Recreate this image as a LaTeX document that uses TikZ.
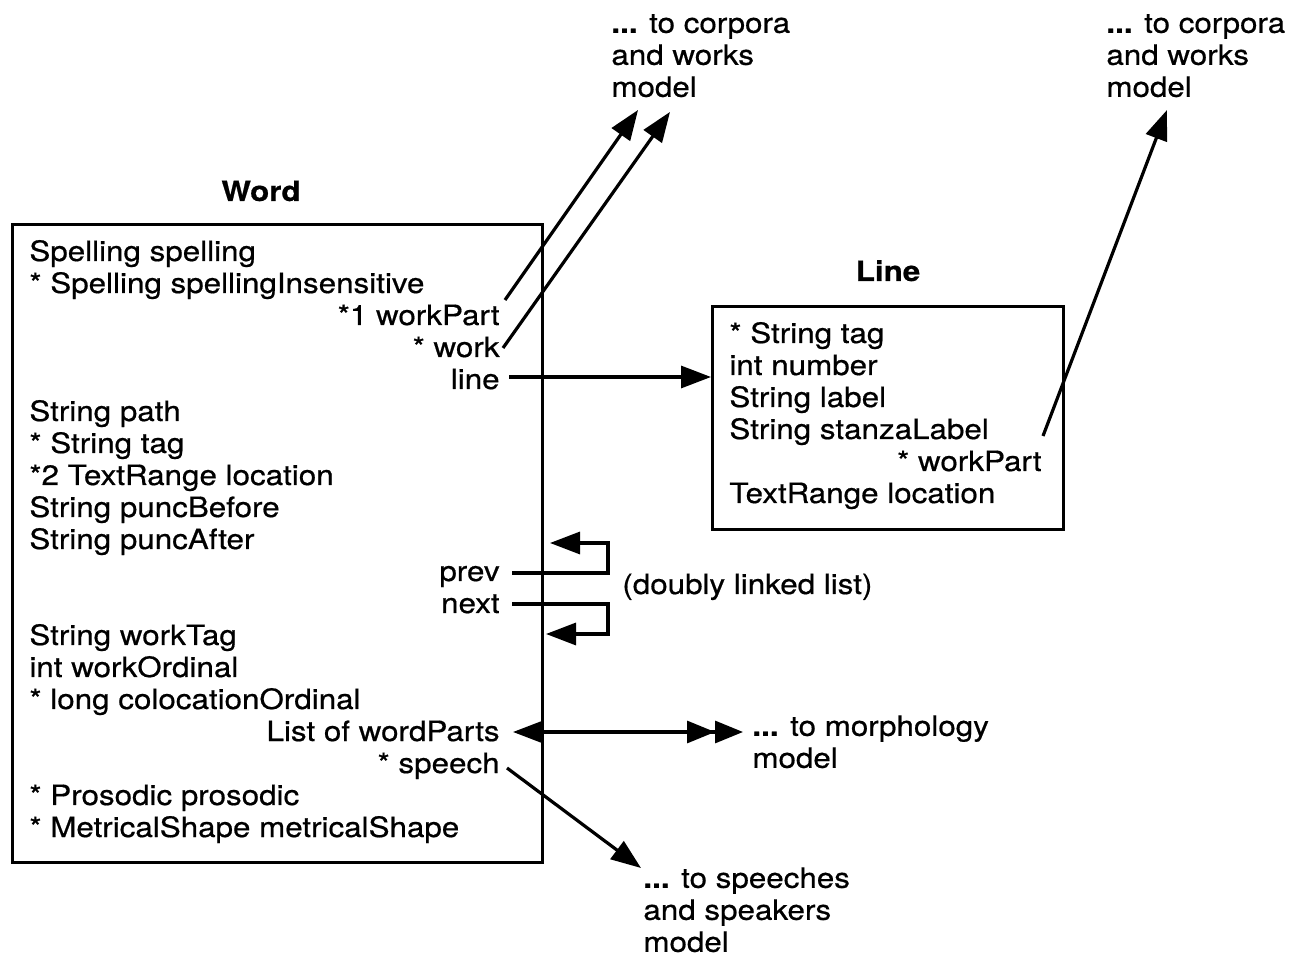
\documentclass[tikz,border=0pt]{standalone}
\usepackage{fontspec}
\setmainfont{TeX Gyre Heros}[FakeStretch=1.12, FakeBold=0.6]
\usetikzlibrary{arrows.meta, calc, positioning}

\begin{document}
\begin{tikzpicture}[x=0.5pt, y=-0.5pt,
  every node/.style={inner sep=0pt, font=\fontsize{14}{16}\selectfont},
  field/.style={anchor=base west},
  rfield/.style={anchor=base east},
  note/.style={anchor=north west, align=left},
  title/.style={anchor=base, font=\fontsize{14}{16}\selectfont\bfseries},
  box/.style={draw, line width=1.5pt},
  link/.style={line width=1.6pt, -{Triangle[length=15pt,width=11pt]}}]

\useasboundingbox (0,0) rectangle (1291,956);

% Word class
\node[title] (wordtitle) at (261,201) {Word};
\draw[box] (12,225) rectangle (542,862);
\foreach \k/\txt in {0/Spelling spelling, 1/* Spelling spellingInsensitive, 5/String path, 6/* String tag, 7/*2 TextRange location, 8/String puncBefore, 9/String puncAfter, 12/String workTag, 13/int workOrdinal, 14/* long colocationOrdinal, 17/* Prosodic prosodic, 18/* MetricalShape metricalShape}
  \node[field] (w\k) at (29,{261+32*\k}) {\txt};
\node[rfield] (wpart) at (500,325) {*1 workPart};
\node[rfield] (work) at (500,357) {* work};
\node[rfield] (line) at (500,389) {line};
\node[rfield] (prev) at (500,581) {prev};
\node[rfield] (next) at (500,613) {next};
\node[rfield] (wparts) at (500,741) {List of wordParts};
\node[rfield] (speech) at (500,773) {* speech};

% Line class
\node[title] (linetitle) at (888,281) {Line};
\node[box, anchor=north west, minimum width=175.5pt, minimum height=111.5pt] (linebox) at (711,305) {};
\foreach \k/\txt in {0/* String tag, 1/int number, 2/String label, 3/String stanzaLabel, 5/TextRange location}
  \node[field] (l\k) at (729,{343+32*\k}) {\txt};
\node[rfield] (lwpart) at (1042,471) {* workPart};

% other models
\node[note] (corpA) at (611,10) {\strut\textbf{...} to corpora\\and works\\model};
\node[note] (corpB) at (1106,10) {\strut\textbf{...} to corpora\\and works\\model};
\node[note] (morph) at (752,713) {\strut\textbf{...} to morphology\\model};
\node[note] (speak) at (643,865) {\strut\textbf{...} to speeches\\and speakers\\model};
\node[field] (dll) at (622,594) {(doubly linked list)};

\coordinate (tipA) at (638,110);
\coordinate (tipB) at (670,112);
\coordinate (tipC) at (1167,110);
\coordinate (prevtip) at (550,543);
\coordinate (nexttip) at (546,634);
\coordinate (morphtip) at (743,732);
\coordinate (speaktip) at (641,868);
\coordinate (linestart) at ($(line.base east)+(9,-12)$);

\draw[link] ($(wpart.base east)+(5,-25)$) -- (tipA);
\draw[link] ($(work.base east)+(3,-9)$) -- (tipB);
\draw[link] (linestart) -- (linestart -| linebox.west);
\draw[link] ($(lwpart.base east)+(1,-35)$) -- (tipC);
\draw[link] ($(prev.base east)+(12,-8)$) -- ++(96,0) |- (prevtip);
\draw[link] ($(next.base east)+(12,-9)$) -- ++(96,0) |- (nexttip);
\draw[line width=1.6pt, {Triangle[length=15pt,width=11pt]}-{Triangle[length=14pt,width=11pt,sep=0pt]Triangle[length=14pt,width=11pt,sep=0pt]}] ($(wparts.base east)+(13,-9)$) -- (morphtip);
\draw[link] ($(speech.base east)+(7,-5)$) -- (speaktip);
\end{tikzpicture}
\end{document}
